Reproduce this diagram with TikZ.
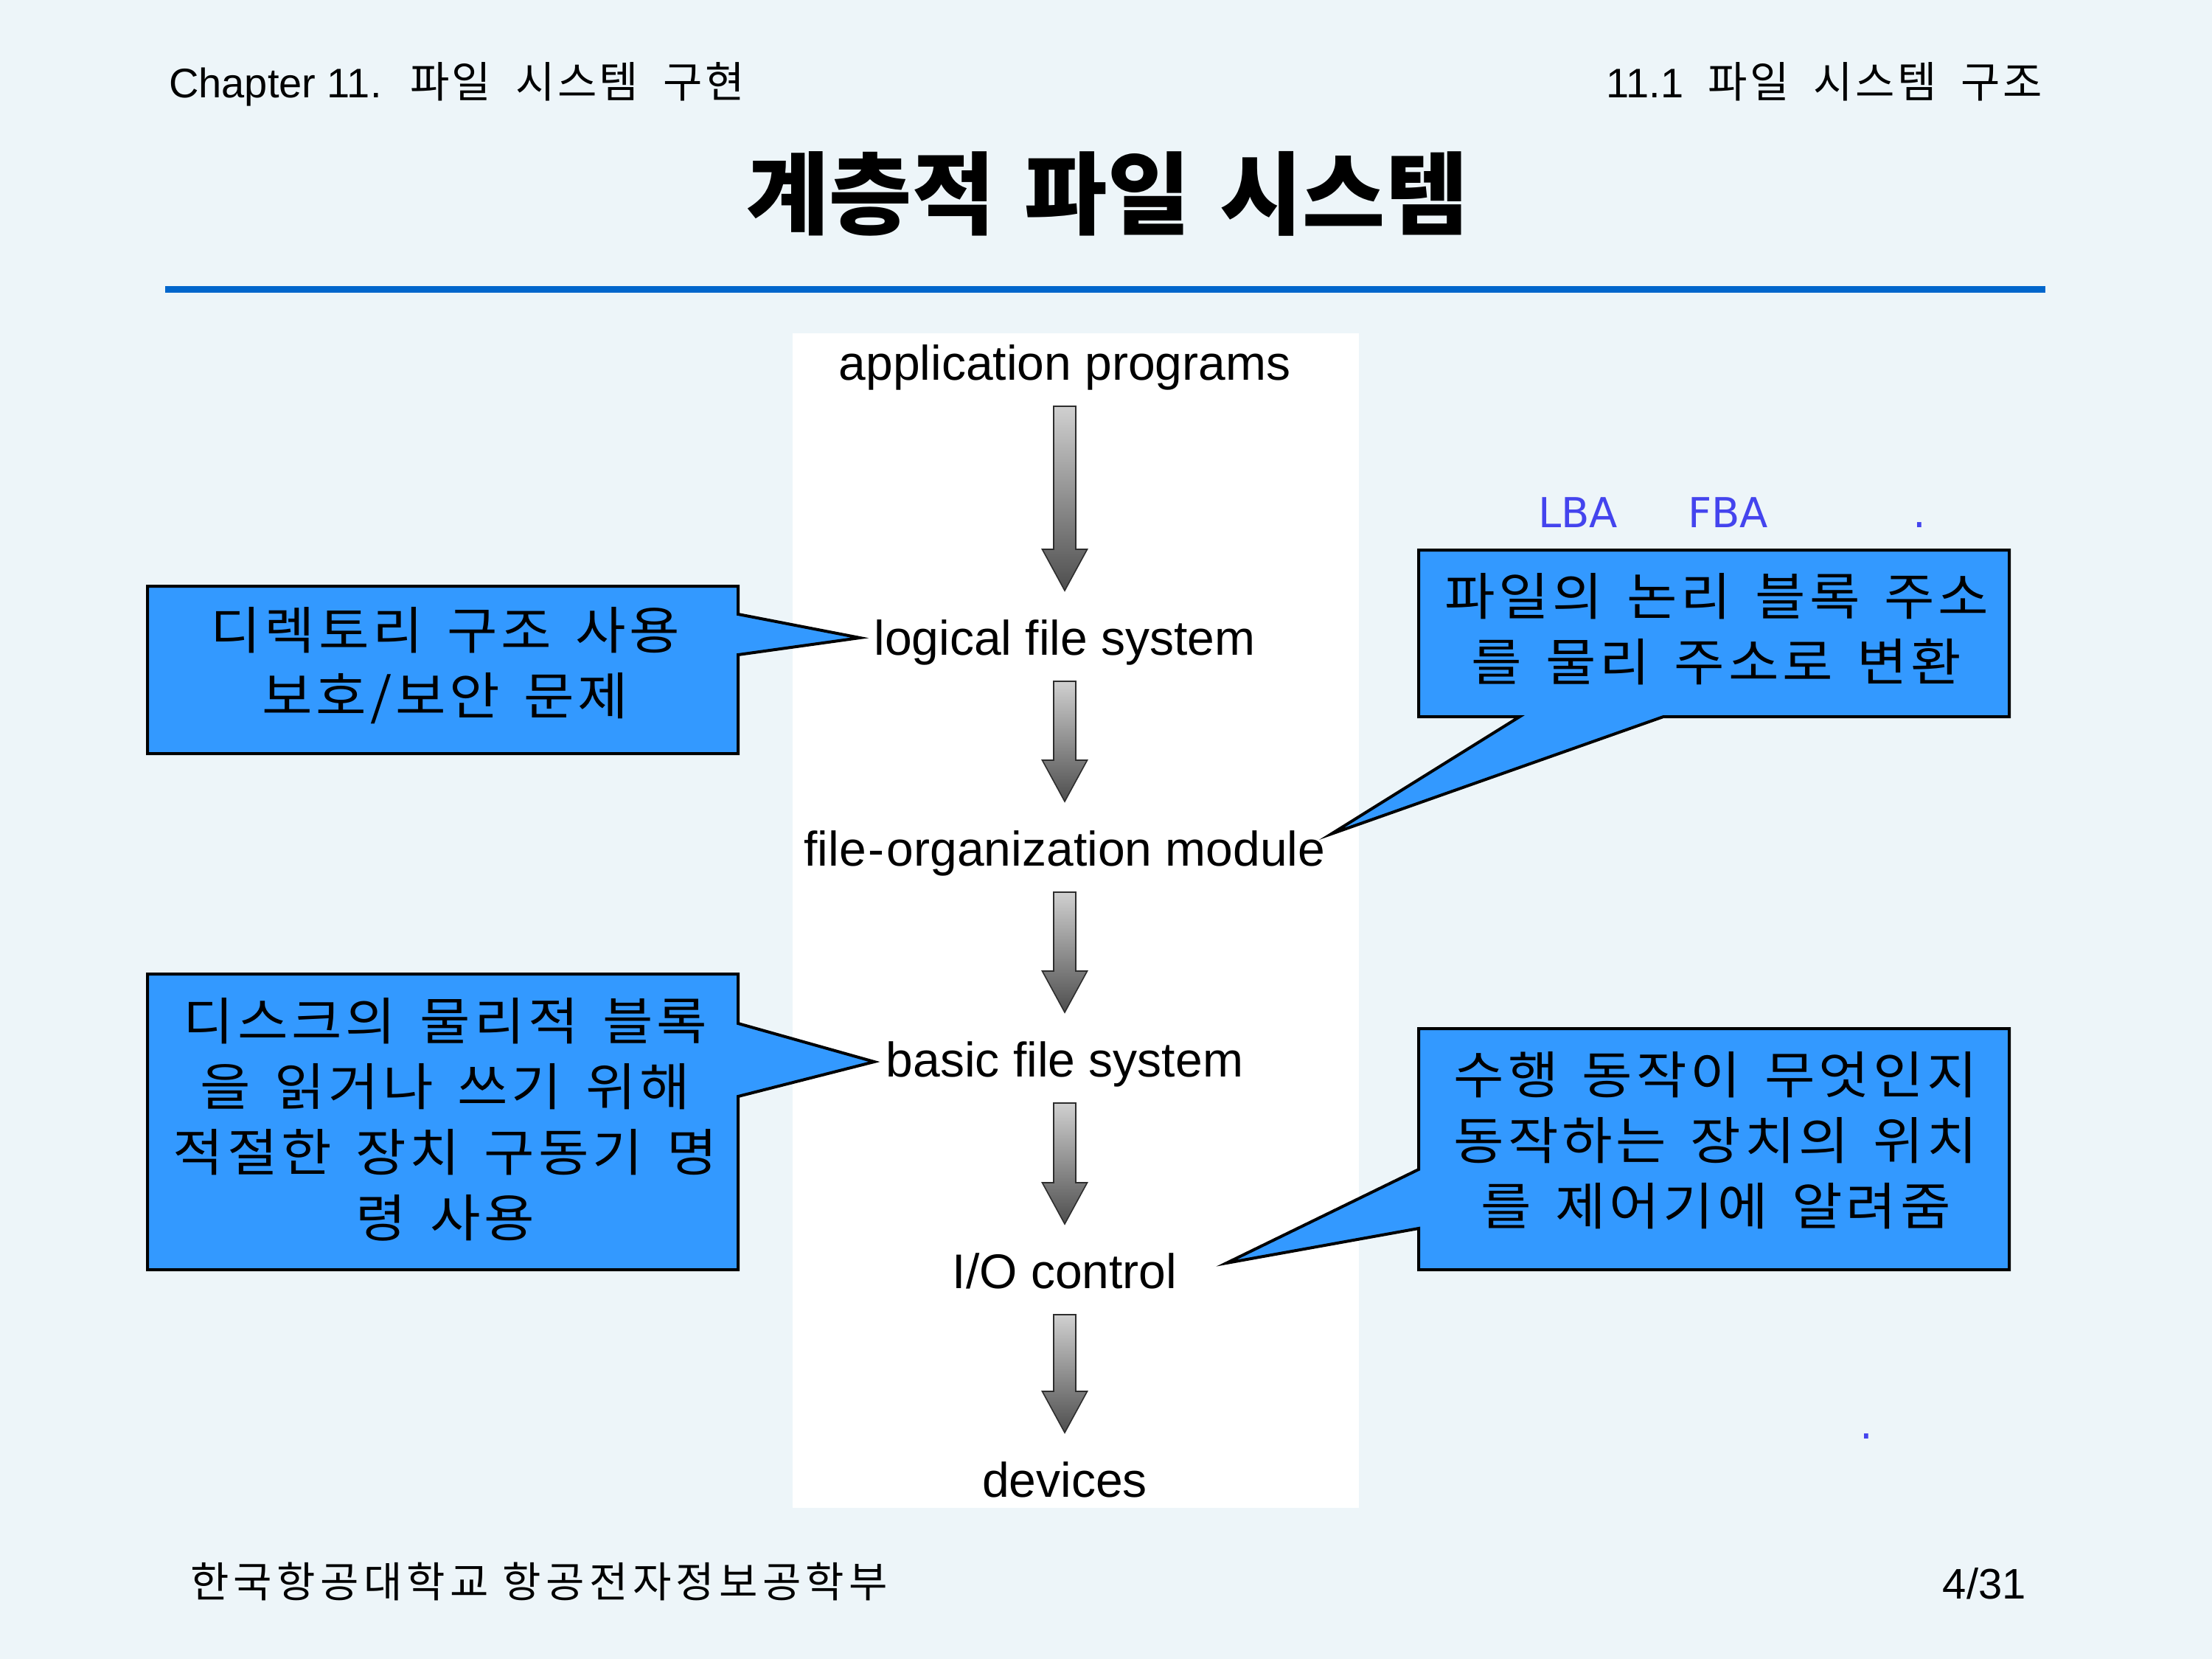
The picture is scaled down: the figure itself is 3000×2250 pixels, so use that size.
\documentclass[tikz,border=0pt]{standalone}
\usepackage{fontspec}
\setmainfont{Liberation Sans}
\newfontfamily\lsans{Liberation Sans}
\newfontfamily\krbody{Noto Sans CJK KR}[FakeStretch=1.08, LetterSpace=7, WordSpace=1.5]
\newfontfamily\krhead{Noto Sans CJK KR}[LetterSpace=6, WordSpace=2.0]
\newfontfamily\krfoot{Noto Sans CJK KR}[LetterSpace=11, WordSpace=1.0]
\newfontfamily\krtitle{Noto Sans CJK KR}[WordSpace=1.45]
\newfontfamily\dvsans{DejaVu Sans}
\usetikzlibrary{calc}

\definecolor{slidebg}{RGB}{237,245,249}
\definecolor{rulebl}{RGB}{0,102,204}
\definecolor{callbl}{RGB}{51,153,255}
\definecolor{notebl}{RGB}{68,68,238}
\definecolor{arrtop}{RGB}{208,208,208}
\definecolor{arrbot}{RGB}{78,78,78}
\definecolor{arrline}{RGB}{45,45,45}

\newcommand\latinhead{\lsans\fontsize{56}{60}\selectfont}

% gray block arrow between two layer labels
\newcommand\layerarrow[2]{%
  \path[layerarrowstyle]
    ($(#1.base)+(-15,36)$) -- ($(#1.base)+(15,36)$) --
    ($(#2.base)+(15,-143)$) -- ($(#2.base)+(30.5,-143)$) --
    ($(#2.base)+(0,-87)$) --
    ($(#2.base)+(-30.5,-143)$) -- ($(#2.base)+(-15,-143)$) -- cycle;}

\tikzset{
  layer/.style={font=\lsans\fontsize{66}{70}\selectfont, inner sep=0pt, anchor=base},
  layerarrowstyle/.style={top color=arrtop, bottom color=arrbot, draw=arrline, line width=1.6pt, line join=miter},
  headtext/.style={font=\krhead\fontsize{58}{60}\selectfont, inner sep=0pt},
  geombox/.style={inner sep=0pt, outer sep=0pt, minimum width=801pt},
  callout/.style={fill=callbl, draw=black, line width=4pt, line join=miter},
  note/.style={font=\krbody\fontsize{69}{89}\selectfont, align=center, inner sep=0pt},
  blueword/.style={font=\dvsans\fontsize{56}{60}\selectfont, text=notebl, inner sep=0pt, anchor=base west},
}

\begin{document}
\begin{tikzpicture}[x=1pt, y=-1pt]
  \useasboundingbox (0,0) rectangle (3000,2250);
  \fill[slidebg] (0,0) rectangle (3000,2250);

  % header, title and rule
  \node[headtext, anchor=base west] (chap) at (229,133) {{\latinhead Chapter 11.} 파일 시스템 구현};
  \node[headtext, anchor=base east] (sect) at (2770,133) {{\latinhead 11.1} 파일 시스템 구조};
  \node[font=\krtitle\bfseries\fontsize{122}{130}\selectfont, inner sep=0pt] (title) at (1502,262.5) {계층적 파일 시스템};
  \draw[rulebl, line width=9pt] (224,392.5) -- (2774,392.5);

  % layered file system panel
  \fill[white] (1075,452) rectangle (1843,2045);
  \node[layer] (app) at (1444,515) {application programs};
  \node[layer] (logical) at (1444,888) {logical file system};
  \node[layer] (fileorg) at (1444,1174) {file\kern3pt-\kern3pt{}organization module};
  \node[layer] (basic) at (1444,1460) {basic file system};
  \node[layer] (io) at (1444,1747) {I/O control};
  \node[layer] (devices) at (1444,2030) {devices};

  \layerarrow{app}{logical}
  \layerarrow{logical}{fileorg}
  \layerarrow{fileorg}{basic}
  \layerarrow{basic}{io}
  \layerarrow{io}{devices}

  % callout geometry
  \node[geombox, minimum height=227pt] (c1box) at (600.5,908.5) {};
  \node[geombox, minimum height=226pt] (c2box) at (2324.5,859) {};
  \node[geombox, minimum height=401pt] (c3box) at (600.5,1521.5) {};
  \node[geombox, minimum height=327pt] (c4box) at (2324.5,1558.5) {};

  \coordinate (tip1) at ($(logical.base west)+(-19,-23)$);
  \coordinate (tip2) at ($(fileorg.base east)+(8,-43)$);
  \coordinate (tip3) at ($(basic.base west)+(-16,-20)$);
  \coordinate (tip4) at ($(io.base east)+(67,-34)$);

  \path[callout] (c1box.north west) -- (c1box.north east) -- ($(c1box.north east)+(0,38)$)
    -- (tip1) -- ($(c1box.north east)+(0,93)$) -- (c1box.south east) -- (c1box.south west) -- cycle;
  \path[callout] (c2box.north west) -- (c2box.north east) -- (c2box.south east)
    -- ($(c2box.south west)+(332,0)$) -- (tip2) -- ($(c2box.south west)+(137,0)$) -- (c2box.south west) -- cycle;
  \path[callout] (c3box.north west) -- (c3box.north east) -- ($(c3box.north east)+(0,67)$)
    -- (tip3) -- ($(c3box.north east)+(0,166)$) -- (c3box.south east) -- (c3box.south west) -- cycle;
  \path[callout] (c4box.north west) -- (c4box.north east) -- (c4box.south east) -- (c4box.south west)
    -- ($(c4box.north west)+(0,271)$) -- (tip4) -- ($(c4box.north west)+(0,191)$) -- cycle;

  \node[note] (c1) at (604,902.5) {디렉토리 구조 사용\\보호/보안 문제};
  \node[note] (c2) at (2328,853.5) {파일의 논리 블록 주소\\를 물리 주소로 변환};
  \node[note] (c3) at (604,1518.5) {디스크의 물리적 블록\\을 읽거나 쓰기 위해\\적절한 장치 구동기 명\\령 사용};
  \node[note] (c4) at (2327,1547) {수행 동작이 무엇인지\\동작하는 장치의 위치\\를 제어기에 알려줌};

  % blue remarks
  \node[blueword] (lba) at (2086,715) {LBA};
  \node[blueword] (fba) at (2289,715) {FBA};
  \node[blueword] (dot1) at (2594,715) {.};
  \node[blueword] (dot2) at (2522,1951) {.};

  % footer
  \node[font=\krfoot\fontsize{57}{60}\selectfont, anchor=base west, inner sep=0pt] (school) at (258,2166) {한국항공대학교 항공전자정보공학부};
  \node[font=\lsans\fontsize{58}{60}\selectfont, anchor=base east, inner sep=0pt] (page) at (2748,2168) {4/31};
\end{tikzpicture}
\end{document}
